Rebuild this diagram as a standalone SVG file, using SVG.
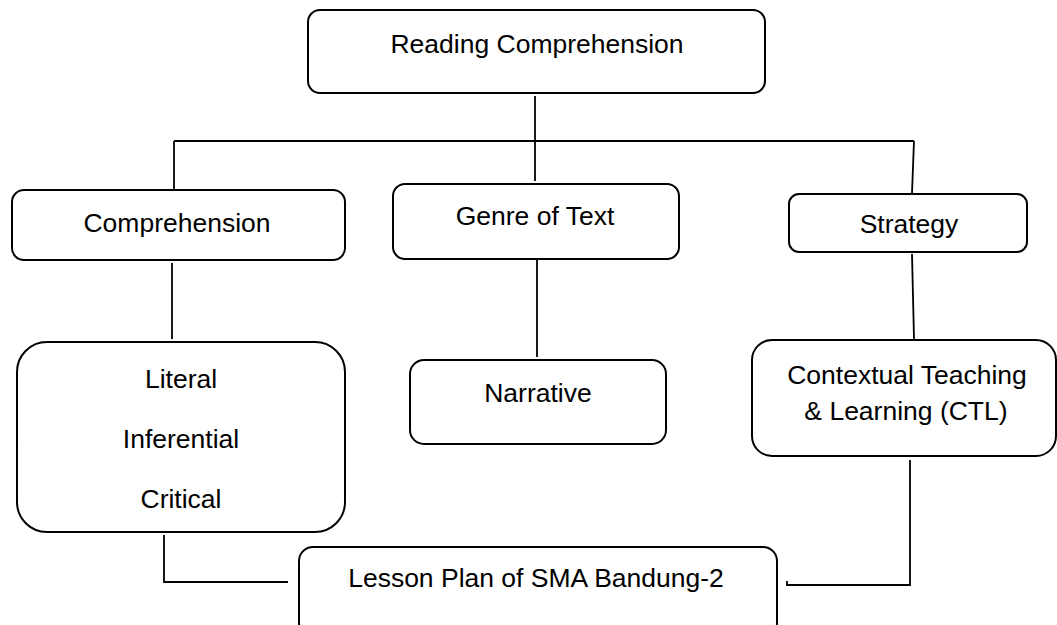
<svg xmlns="http://www.w3.org/2000/svg" width="1057" height="625" viewBox="0 0 1057 625">
<style>
.box{fill:#fff;stroke:#000;stroke-width:2}
.ln{fill:none;stroke:#000;stroke-width:1.8}
text{font-family:"Liberation Sans",Arial,sans-serif;font-size:26.5px;fill:#000;text-anchor:middle}
</style>
<rect width="1057" height="625" fill="#fff"/>
<g id="connectors">
<line class="ln" x1="535" y1="96" x2="535" y2="181"/>
<line class="ln" x1="174" y1="141" x2="914" y2="141"/>
<line class="ln" x1="174" y1="141" x2="174" y2="189"/>
<line class="ln" x1="914" y1="141" x2="912" y2="193"/>
<line class="ln" x1="172" y1="263" x2="172" y2="339"/>
<line class="ln" x1="537" y1="260" x2="537" y2="357"/>
<line class="ln" x1="912" y1="254" x2="914" y2="339"/>
<polyline class="ln" points="164,535 164,582 288,582"/>
<polyline class="ln" points="910,460 910,585 787,585 787,581"/>
</g>
<g id="reading">
<rect class="box" x="308" y="10" width="457" height="83" rx="12"/>
<text x="537" y="53">Reading Comprehension</text>
</g>
<g id="comprehension">
<rect class="box" x="12" y="190" width="333" height="70" rx="12"/>
<text x="177" y="232">Comprehension</text>
</g>
<g id="genre">
<rect class="box" x="393" y="184" width="286" height="75" rx="12"/>
<text x="535" y="225">Genre of Text</text>
</g>
<g id="strategy">
<rect class="box" x="789" y="194" width="238" height="58" rx="10"/>
<text x="909" y="233">Strategy</text>
</g>
<g id="levels">
<rect class="box" x="17" y="342" width="328" height="190" rx="30"/>
<text x="181" y="388">Literal</text>
<text x="181" y="448">Inferential</text>
<text x="181" y="508">Critical</text>
</g>
<g id="narrative">
<rect class="box" x="410" y="360" width="256" height="84" rx="14"/>
<text x="538" y="402">Narrative</text>
</g>
<g id="ctl">
<rect class="box" x="752" y="340" width="304" height="116" rx="20"/>
<text x="907" y="384">Contextual Teaching</text>
<text x="906" y="420">&amp; Learning (CTL)</text>
</g>
<g id="lesson">
<rect class="box" x="299" y="547" width="478" height="90" rx="14"/>
<text x="536" y="587">Lesson Plan of SMA Bandung-2</text>
</g>
</svg>
